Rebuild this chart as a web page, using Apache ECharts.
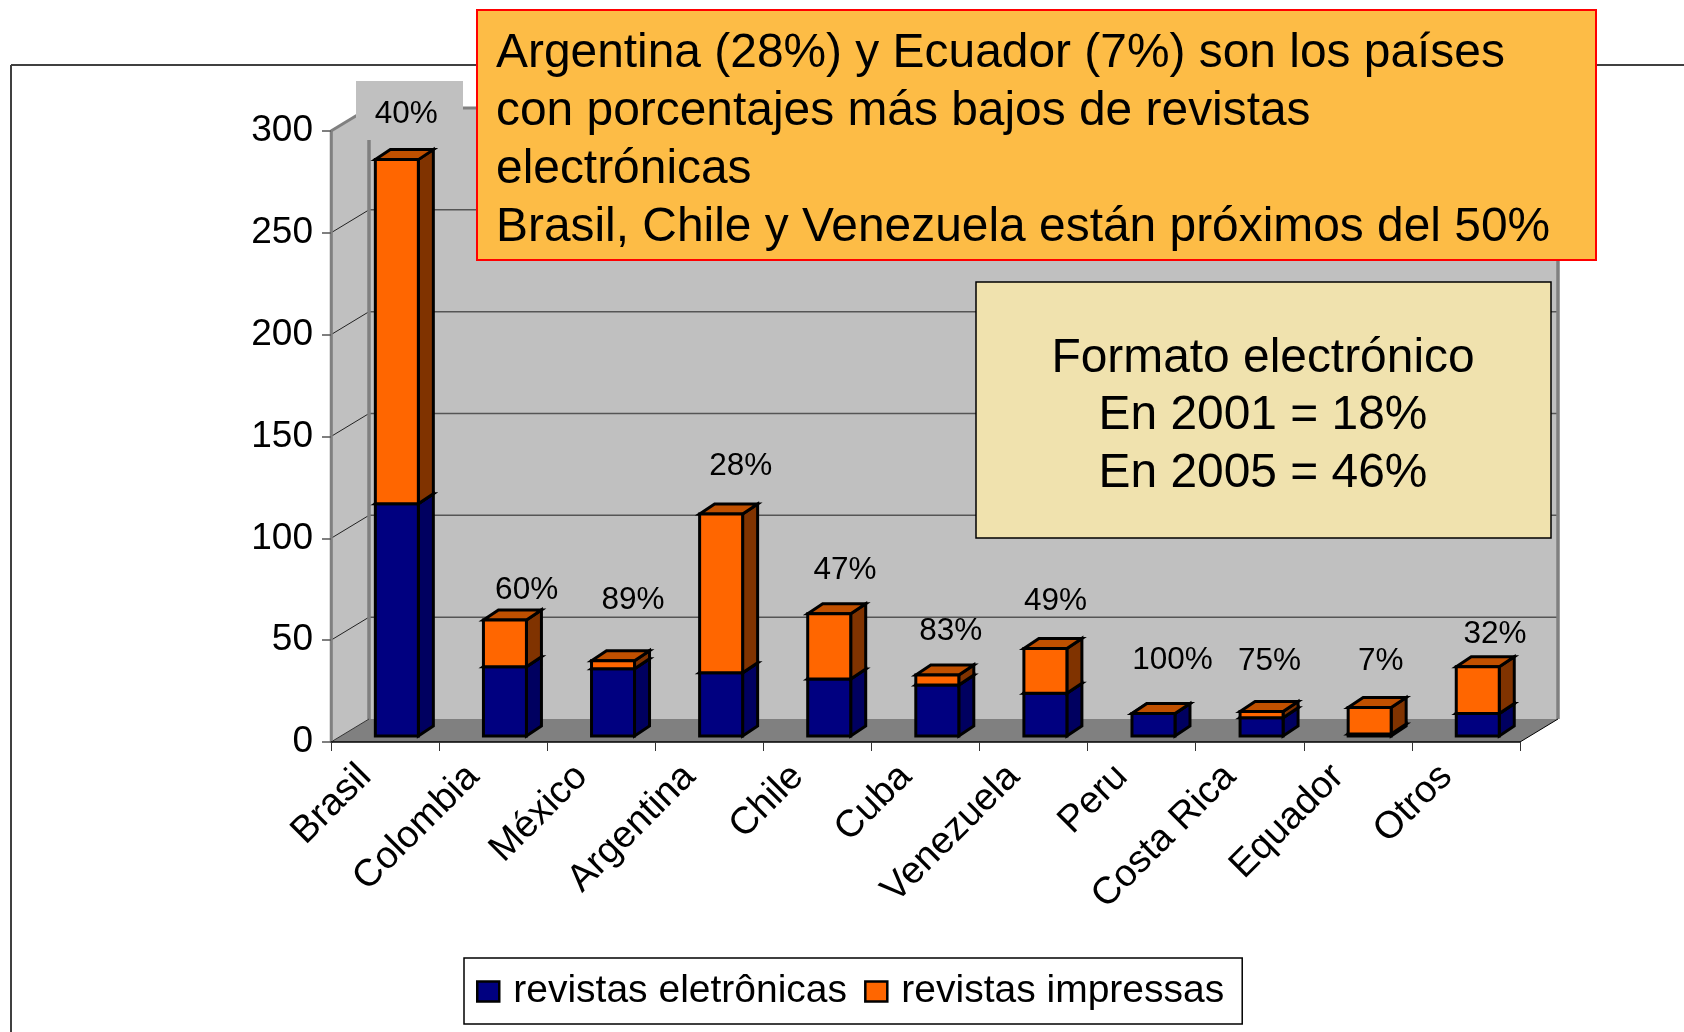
<!DOCTYPE html>
<html><head><meta charset="utf-8">
<style>html,body{margin:0;padding:0;background:#fff}#c{width:1684px;height:1032px}</style>
<script src="https://cdn.jsdelivr.net/npm/echarts@6/dist/echarts.min.js"></script>
</head><body><div id="c"></div>
<script>
const categories = ['Brasil','Colombia','México','Argentina','Chile','Cuba','Venezuela','Peru','Costa Rica','Equador','Otros'];
const electronicas = [114,34,33,31,28,25,21,11,9,1,11];
const impresas = [169,23,4,78,32,5,22,0,3,13,23];
const percentLabels = ['40%','60%','89%','28%','47%','83%','49%','100%','75%','7%','32%'];
const yTicks = [0,50,100,150,200,250,300];
const seriesNames = ['revistas eletrônicas','revistas impressas'];
const calloutOrange = ['Argentina (28%) y Ecuador (7%) son los países','con porcentajes más bajos de revistas','electrónicas','Brasil, Chile y Venezuela están próximos del 50%'];
const calloutYellow = ['Formato electrónico','En 2001 = 18%','En 2005 = 46%'];

// layout only: pixel nudges of each percent label from its bar's top
const labelNudgeX = [9.5,21.7,20,19.6,15.8,13.5,10.2,19,8,11,17.3];
const labelNudgeY = [-45,-30,-60,-48,-43,-44,-47,-53,-50,-46,-32];
const FONT = '"Liberation Sans", Arial, sans-serif';
const DEPTH = {dx:38, dy:23};
const BAR = {off:11.8, w:43, lift:6, dx:15, dy:10};

function poly(points, fill, stroke, lw){
  return {type:'polygon', shape:{points}, style:{fill, stroke:stroke||'none', lineWidth:lw||0}};
}
function seg(x1,y1,x2,y2,stroke,lw){
  return {type:'line', shape:{x1,y1,x2,y2}, style:{stroke, lineWidth:lw}};
}
function renderWalls(params, api){
  const cs = params.coordSys;
  const x0 = cs.x, x1 = cs.x+cs.width, yB = cs.y+cs.height, yT = cs.y;
  const {dx,dy} = DEPTH;
  const kids = [
    poly([[x0,yB],[x0,yT],[x0+dx,yT-dy],[x0+dx,yB-dy]],'#C0C0C0'),
    poly([[x0+dx,yB-dy],[x0+dx,yT-dy],[x1+dx,yT-dy],[x1+dx,yB-dy]],'#C0C0C0'),
    poly([[x0,yB],[x0+dx,yB-dy],[x1+dx,yB-dy],[x1,yB]],'#808080')
  ];
  yTicks.forEach(v=>{
    if(v===0) return;
    const y = api.coord([0,v])[1];
    kids.push(seg(x0,y,x0+dx,y-dy,v===300?'#808080':'#222',v===300?3:1));
    if(v!==300) kids.push(seg(x0+dx,y-dy,x1+dx,y-dy,'#555',1.5));
  });
  kids.push(seg(x0+dx,yT-dy,x1+dx,yT-dy,'#808080',3));
  kids.push(seg(x0+dx,yT-dy,x0+dx,yB-dy,'#808080',3.5));
  kids.push(seg(x1+dx,yT-dy,x1+dx,yB-dy,'#808080',3.5));
  kids.push(seg(x0,yT,x0,yB,'#808080',2.5));
  kids.push(seg(x0,yB,x0+dx,yB-dy,'#333',1));
  kids.push(seg(x1,yB,x1+dx,yB-dy,'#000',1));
  return {type:'group', children:kids};
}
function boxSegment(api, colors){
  const i = api.value(0);
  const cx = api.coord([i,0])[0] + BAR.off;
  const yLow = api.coord([i,api.value(1)])[1] - BAR.lift;
  const yHigh = api.coord([i,api.value(2)])[1] - BAR.lift;
  const l = cx-BAR.w/2, r = cx+BAR.w/2, {dx,dy} = BAR;
  const st = '#000', lw = 3;
  return {cx, yHigh, children:[
    poly([[r,yLow],[r,yHigh],[r+dx,yHigh-dy],[r+dx,yLow-dy]],colors.side,st,lw),
    poly([[l,yHigh],[r,yHigh],[r+dx,yHigh-dy],[l+dx,yHigh-dy]],colors.top,st,lw),
    poly([[l,yLow],[l,yHigh],[r,yHigh],[r,yLow]],colors.front,st,lw)
  ]};
}
const navy = {front:'#000080',side:'#000060',top:'#000070'};
const orange = {front:'#FF6600',side:'#803300',top:'#C05000'};

const elecData = categories.map((c,i)=>[i,0,electronicas[i]]);
const printData = categories.map((c,i)=>[i,electronicas[i],electronicas[i]+impresas[i],percentLabels[i]]);

const chart = echarts.init(document.getElementById('c'),null,{renderer:'canvas'});
const gfx = [
  {type:'line', z:0, shape:{x1:11,y1:65,x2:1684,y2:65}, style:{stroke:'#404040',lineWidth:2}},
  {type:'line', z:0, shape:{x1:11,y1:65,x2:11,y2:1032}, style:{stroke:'#404040',lineWidth:2}},
  {type:'rect', z:2, shape:{x:356,y:81,width:107,height:59}, style:{fill:'#C0C0C0'}},
  {type:'rect', z:50, shape:{x:477,y:10,width:1119,height:250}, style:{fill:'#FDBC46',stroke:'#FF0000',lineWidth:2}},
  {type:'rect', z:50, shape:{x:976,y:282,width:575,height:256}, style:{fill:'#F0E2AE',stroke:'#000',lineWidth:1.5}}
];
calloutOrange.forEach((t,k)=>gfx.push({type:'text',z:51,x:496,y:53.5+k*58,style:{text:t,fontFamily:FONT,fontSize:47.9,fill:'#000',textAlign:'left',textVerticalAlign:'middle'}}));
calloutYellow.forEach((t,k)=>gfx.push({type:'text',z:51,x:1263,y:358.5+k*57.5,style:{text:t,fontFamily:FONT,fontSize:47.9,fill:'#000',textAlign:'center',textVerticalAlign:'middle'}}));

chart.setOption({
  animation:false,
  backgroundColor:'#fff',
  textStyle:{fontFamily:FONT},
  grid:{left:331,right:164,top:131,bottom:290,containLabel:false},
  legend:{
    data:seriesNames, left:464, top:958, orient:'horizontal',
    padding:[14,18,13,12], itemGap:17, itemWidth:22, itemHeight:20,
    backgroundColor:'#fff', borderColor:'#000', borderWidth:1.5, borderRadius:0, icon:'rect',
    itemStyle:{borderColor:'#000',borderWidth:2.5},
    textStyle:{fontFamily:FONT,fontSize:39,color:'#000',padding:[0,0,0,9]},
    selectedMode:false
  },
  xAxis:{type:'category',data:categories,boundaryGap:true,z:3,
    axisLine:{show:true,lineStyle:{color:'#000',width:1.5}},
    axisTick:{show:true,length:9,alignWithLabel:false,lineStyle:{color:'#333',width:1}},
    axisLabel:{rotate:45,interval:0,margin:9,fontFamily:FONT,fontSize:38,color:'#000',padding:[0,28,0,0]},
    splitLine:{show:false}},
  yAxis:{type:'value',min:0,max:300,interval:50,z:3,
    axisLine:{show:true,lineStyle:{color:'#808080',width:2.5}},
    axisTick:{show:true,length:9,lineStyle:{color:'#555',width:1.5}},
    axisLabel:{margin:18,fontFamily:FONT,fontSize:37,color:'#000'},
    splitLine:{show:false}},
  graphic:{elements:gfx},
  series:[
    {type:'custom',name:'walls',z:1,silent:true,legendHoverLink:false,data:[[0,0]],encode:{x:0,y:1},renderItem:renderWalls},
    {type:'custom',name:seriesNames[0],z:4,data:elecData,encode:{x:0,y:2},itemStyle:{color:navy.front},
      renderItem:(p,api)=>({type:'group',children:boxSegment(api,navy).children})},
    {type:'custom',name:seriesNames[1],z:5,data:printData,encode:{x:0,y:2},itemStyle:{color:orange.front},
      renderItem:(p,api)=>{
        const b = boxSegment(api,orange), i = api.value(0);
        b.children.push({type:'text',x:b.cx+labelNudgeX[i],y:b.yHigh+labelNudgeY[i],
          style:{text:percentLabels[i],fontFamily:FONT,fontSize:31.5,fill:'#000',textAlign:'center',textVerticalAlign:'middle'}});
        return {type:'group',children:b.children};
      }}
  ]
});
</script></body></html>
